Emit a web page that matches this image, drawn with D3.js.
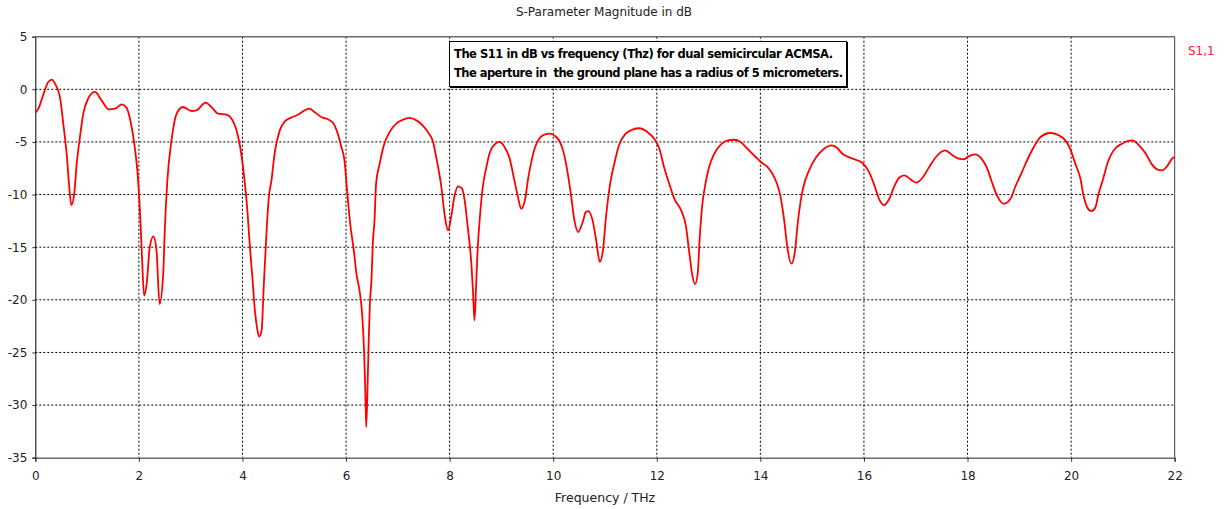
<!DOCTYPE html>
<html>
<head>
<meta charset="utf-8">
<script src="https://cdn.jsdelivr.net/npm/d3@7"></script>
<style>
  html, body { margin: 0; padding: 0; background: #fff; }
  svg { display: block; }
  text { font-family: "DejaVu Sans", Verdana, sans-serif; }
</style>
</head>
<body>
<svg id="chart" width="1231" height="509"></svg>
<script>
// S11 magnitude (dB) against frequency (THz)
const freq = [
  0, 0.06, 0.15, 0.25, 0.32, 0.38, 0.48, 0.54, 0.605, 0.656, 0.695, 0.752, 0.80, 0.862, 0.926,
  1.02, 1.15, 1.28, 1.42, 1.54, 1.67, 1.76, 1.86, 1.92, 1.97,
  2.02, 2.06, 2.10, 2.15, 2.21, 2.28, 2.34, 2.40, 2.47, 2.50, 2.55, 2.63, 2.73, 2.85,
  3.02, 3.11, 3.29, 3.40, 3.53, 3.69, 3.79, 3.88, 3.96,
  4.04, 4.09, 4.14, 4.19, 4.24, 4.28, 4.32, 4.37, 4.41, 4.46, 4.51, 4.56, 4.62, 4.72, 4.82, 4.94,
  5.07, 5.20, 5.29, 5.39, 5.52, 5.65, 5.76, 5.84, 5.91, 5.97,
  6.02, 6.08, 6.15, 6.20, 6.26, 6.31, 6.35, 6.37, 6.39, 6.42, 6.44, 6.46, 6.49, 6.52, 6.55, 6.58, 6.65, 6.73, 6.84, 6.97,
  7.10, 7.23, 7.36, 7.48, 7.60, 7.68, 7.74, 7.84, 7.90, 7.97,
  8.03, 8.09, 8.16, 8.24, 8.29, 8.35, 8.42, 8.45, 8.48, 8.51, 8.54, 8.59, 8.64, 8.71, 8.77, 8.87, 8.96,
  9.06, 9.16, 9.25, 9.32, 9.38, 9.46, 9.51, 9.57, 9.64, 9.73, 9.83, 9.93,
  10.06, 10.19, 10.26, 10.34, 10.41, 10.48, 10.57, 10.63, 10.68, 10.76, 10.83, 10.90, 10.96,
  11.02, 11.11, 11.18, 11.27, 11.40, 11.53, 11.66, 11.82, 11.95,
  12.05, 12.14, 12.24, 12.34, 12.47, 12.56, 12.63, 12.68, 12.74, 12.79, 12.83, 12.88, 12.94,
  13.01, 13.11, 13.24, 13.37, 13.49, 13.62, 13.75, 13.91,
  14.01, 14.14, 14.23, 14.33, 14.39, 14.46, 14.52, 14.60, 14.67, 14.72, 14.78, 14.83, 14.94,
  15.07, 15.23, 15.37, 15.47, 15.58, 15.78, 15.97,
  16.10, 16.20, 16.29, 16.39, 16.49, 16.58, 16.68, 16.78, 16.91,
  17.01, 17.13, 17.26, 17.39, 17.57, 17.71, 17.83, 17.93,
  18.02, 18.14, 18.27, 18.38, 18.47, 18.57, 18.70, 18.83, 18.92,
  19.05, 19.18, 19.28, 19.41, 19.60, 19.76, 19.89, 19.98,
  20.08, 20.18, 20.24, 20.31, 20.39, 20.47, 20.53, 20.61, 20.71, 20.82, 20.98,
  21.18, 21.31, 21.44, 21.56, 21.66, 21.76, 21.85, 21.95, 22.0
];
const s11 = [
  -2.25, -1.84, -0.57, 0.7, 0.92, 0.54, -0.89, -3.26, -6.1, -9.3, -11.0, -9.9, -7.06, -4.53, -2.31,
  -0.89, -0.25, -1.05, -1.9, -1.84, -1.43, -1.74, -3.58, -5.48, -7.7,
  -11.5, -15.9, -19.6, -18.5, -15.0, -13.97, -15.3, -20.4, -17.5, -13.4, -8.65, -4.85, -2.31, -1.68,
  -2.06, -2.0, -1.27, -1.68, -2.31, -2.41, -2.79, -3.8, -5.6,
  -8.65, -11.2, -14.7, -17.8, -21.0, -22.6, -23.5, -22.9, -18.8, -14.0, -10.2, -8.65, -6.1, -3.9, -3.04, -2.69,
  -2.41, -2.0, -1.84, -2.15, -2.63, -2.85, -3.26, -4.21, -5.48, -6.75,
  -9.6, -12.77, -15.3, -17.5, -19.1, -21.3, -25.1, -28.3, -32.1, -27.3, -23.5, -20.4, -18.2, -14.35, -12.45, -8.96, -7.06, -5.32, -4.06, -3.26,
  -2.88, -2.72, -2.95, -3.42, -4.21, -5.0, -6.43, -9.28, -11.8, -13.4,
  -12.1, -10.24, -9.22, -9.44, -10.55, -13.1, -16.6, -19.1, -21.96, -18.8, -15.3, -11.8, -9.28, -7.39, -6.1, -5.23, -5.0,
  -5.48, -6.59, -8.65, -10.24, -11.35, -10.4, -8.65, -7.06, -5.64, -4.69, -4.31, -4.21,
  -4.53, -5.8, -7.39, -9.92, -12.45, -13.56, -12.6, -11.66, -11.57, -12.45, -14.35, -16.4, -15.3,
  -12.1, -8.65, -7.06, -5.32, -4.21, -3.83, -3.7, -4.06, -4.69,
  -5.64, -7.39, -8.96, -10.4, -11.5, -12.93, -15.6, -17.5, -18.5, -17.5, -14.0, -10.9, -8.96,
  -7.39, -6.1, -5.23, -4.85, -4.79, -5.0, -5.64, -6.43,
  -6.9, -7.39, -8.0, -9.1, -10.24, -12.45, -15.0, -16.57, -15.3, -12.77, -10.55, -9.28, -7.7,
  -6.5, -5.64, -5.32, -5.5, -6.1, -6.59, -7.0,
  -7.86, -9.1, -10.4, -11.0, -10.4, -9.28, -8.4, -8.18, -8.59,
  -8.87, -8.4, -7.39, -6.43, -5.8, -6.27, -6.59, -6.65,
  -6.37, -6.18, -6.59, -7.54, -8.81, -10.1, -10.87, -10.4, -9.28,
  -7.86, -6.43, -5.48, -4.53, -4.15, -4.37, -4.85, -5.64,
  -7.06, -8.49, -10.1, -11.2, -11.57, -11.2, -9.92, -8.65, -6.9, -5.8, -5.17,
  -4.85, -5.32, -6.1, -7.13, -7.6, -7.7, -7.32, -6.59, -6.4
];

const xTicks = [0, 2, 4, 6, 8, 10, 12, 14, 16, 18, 20, 22];
const xTickLabels = ["0", "2", "4", "6", "8", "10", "12", "14", "16", "18", "20", "22"];
const yTicks = [5, 0, -5, -10, -15, -20, -25, -30, -35];
const yTickLabels = ["5", "0", "-5", "-10", "-15", "-20", "-25", "-30", "-35"];

const chartTitle = "S-Parameter Magnitude in dB";
const xTitle = "Frequency / THz";
const seriesName = "S1,1";
const noteLines = [
  "The S11 in dB vs frequency (Thz) for dual semicircular ACMSA.",
  "The aperture in  the ground plane has a radius of 5 micrometers."
];

const plot = { left: 35.3, right: 1174.7, top: 36.7, bottom: 457.7 };

const svg = d3.select("#chart");

const x = d3.scaleLinear().domain([0, 22]).range([plot.left, plot.right]);
const y = d3.scaleLinear().domain([-35, 5]).range([plot.bottom, plot.top]);

// grid
const grid = svg.append("g").attr("class", "grid");
grid.selectAll("line.v")
  .data(xTicks.slice(1, -1))
  .join("line")
  .attr("x1", d => x(d)).attr("x2", d => x(d))
  .attr("y1", plot.top).attr("y2", plot.bottom)
  .attr("stroke", "#000").attr("stroke-width", 1).attr("stroke-dasharray", "2,2");
grid.selectAll("line.h")
  .data(yTicks.slice(1, -1))
  .join("line")
  .attr("x1", plot.left).attr("x2", plot.right)
  .attr("y1", d => y(d)).attr("y2", d => y(d))
  .attr("stroke", "#000").attr("stroke-width", 1).attr("stroke-dasharray", "2,2");

// axes
const xAxis = d3.axisBottom(x)
  .tickValues(xTicks)
  .tickFormat((d, i) => xTickLabels[i])
  .tickSize(4).tickPadding(10);
const gx = svg.append("g").attr("transform", `translate(0,${plot.bottom})`).call(xAxis);
gx.select(".domain").attr("stroke", "#6a6a6a").attr("stroke-width", 1.5);
gx.selectAll(".tick line").attr("stroke", "#333");
gx.selectAll("text").attr("font-size", 12).attr("fill", "#222")
  .attr("font-family", "DejaVu Sans, Verdana, sans-serif");

const yAxis = d3.axisLeft(y)
  .tickValues(yTicks)
  .tickFormat((d, i) => yTickLabels[i])
  .tickSize(3).tickPadding(5);
const gy = svg.append("g").attr("transform", `translate(${plot.left},0)`).call(yAxis);
gy.select(".domain").attr("stroke", "#000").attr("stroke-width", 1);
gy.selectAll(".tick line").attr("stroke", "#333");
gy.selectAll("text").attr("font-size", 12).attr("fill", "#222")
  .attr("font-family", "DejaVu Sans, Verdana, sans-serif");

// frame top and right
svg.append("line")
  .attr("x1", plot.left).attr("x2", plot.right)
  .attr("y1", plot.top).attr("y2", plot.top)
  .attr("stroke", "#6a6a6a").attr("stroke-width", 1.5);
svg.append("line")
  .attr("x1", plot.right).attr("x2", plot.right)
  .attr("y1", plot.top).attr("y2", plot.bottom)
  .attr("stroke", "#444").attr("stroke-width", 1);

// curve
svg.append("clipPath").attr("id", "plotClip")
  .append("rect")
  .attr("x", plot.left).attr("y", plot.top)
  .attr("width", plot.right - plot.left).attr("height", plot.bottom - plot.top);

const line = d3.line()
  .x((d, i) => x(freq[i]))
  .y(d => y(d))
  .curve(d3.curveMonotoneX);

svg.append("path")
  .datum(s11)
  .attr("clip-path", "url(#plotClip)")
  .attr("fill", "none")
  .attr("stroke", "#ff0000")
  .attr("stroke-width", 1.8)
  .attr("stroke-linejoin", "round")
  .attr("d", line);

// titles
svg.append("text")
  .attr("x", 604).attr("y", 16)
  .attr("text-anchor", "middle")
  .attr("font-size", 12).attr("fill", "#222")
  .text(chartTitle);

svg.append("text")
  .attr("x", 605).attr("y", 502)
  .attr("text-anchor", "middle")
  .attr("font-size", 12.5).attr("fill", "#222")
  .text(xTitle);

// series label
svg.append("text")
  .attr("x", 1188).attr("y", 55)
  .attr("font-size", 12).attr("fill", "#ff2020")
  .text(seriesName);

// annotation box
const note = svg.append("g");
note.append("rect")
  .attr("x", 449.5).attr("y", 41.5)
  .attr("width", 397).attr("height", 45)
  .attr("fill", "#fff").attr("stroke", "#000").attr("stroke-width", 1);
note.append("line")
  .attr("x1", 450).attr("x2", 848).attr("y1", 87.5).attr("y2", 87.5)
  .attr("stroke", "#000").attr("stroke-width", 1);
note.append("line")
  .attr("x1", 847.5).attr("x2", 847.5).attr("y1", 42).attr("y2", 88)
  .attr("stroke", "#000").attr("stroke-width", 1);
const noteWidths = [379, 389];
note.selectAll("text")
  .data(noteLines)
  .join("text")
  .attr("x", 454)
  .attr("y", (d, i) => 58 + i * 18.5)
  .attr("font-family", "Liberation Sans, Arial, sans-serif")
  .attr("font-weight", "bold")
  .attr("font-size", 11.5)
  .attr("fill", "#000")
  .style("white-space", "pre")
  .attr("textLength", (d, i) => noteWidths[i])
  .attr("lengthAdjust", "spacing")
  .text(d => d);
</script>
</body>
</html>
